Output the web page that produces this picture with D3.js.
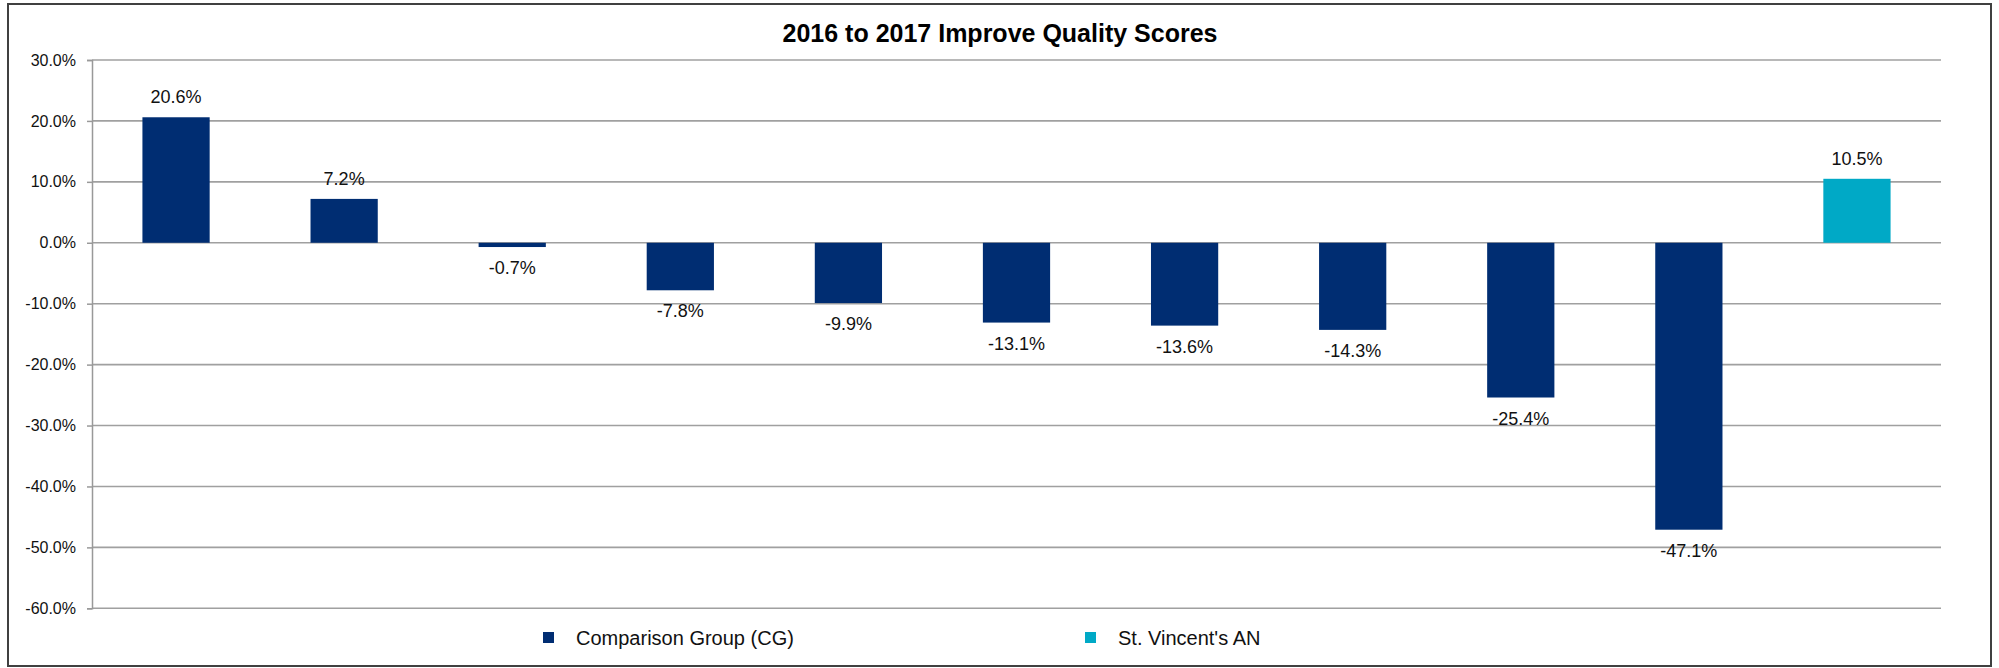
<!DOCTYPE html>
<html lang="en">
<head>
  <meta charset="UTF-8">
  <style>
    html, body { margin: 0; padding: 0; background: #fff; }
    svg { display: block; font-family: "Liberation Sans", Arial, sans-serif; }
  </style>
  <script src="https://d3js.org/d3.v7.min.js"></script>
</head>
<body>
  <svg id="chart" width="1999" height="668"></svg>

  <script>
    // chart data
    const categories = ["CG 1", "CG 2", "CG 3", "CG 4", "CG 5", "CG 6", "CG 7", "CG 8", "CG 9", "CG 10", "St. Vincent's AN"];
    const values = [20.6, 7.2, -0.7, -7.8, -9.9, -13.1, -13.6, -14.3, -25.4, -47.1, 10.5];
    const groups = ["CG", "CG", "CG", "CG", "CG", "CG", "CG", "CG", "CG", "CG", "SV"];
    const yTicks = [30, 20, 10, 0, -10, -20, -30, -40, -50, -60];
    const legendNames = ["Comparison Group (CG)", "St. Vincent's AN"];

    const colors = { CG: "#002D72", SV: "#00A9C6" };

    const svg = d3.select("#chart");

    // outer frame
    svg.append("rect")
      .attr("x", 8).attr("y", 4)
      .attr("width", 1983).attr("height", 662)
      .attr("fill", "#fff")
      .attr("stroke", "#404040")
      .attr("stroke-width", 2);

    const x = d3.scaleBand()
      .domain(categories)
      .range([92, 1941])
      .paddingInner(0.6)
      .paddingOuter(0.3);

    const y = d3.scaleLinear().domain([-60, 30]).range([608.3, 60]);

    // gridlines
    svg.append("g")
      .selectAll("line")
      .data(yTicks)
      .enter().append("line")
      .attr("x1", 92).attr("x2", 1941)
      .attr("y1", d => y(d)).attr("y2", d => y(d))
      .attr("stroke", "#a0a0a0")
      .attr("stroke-width", 1.6);

    // y axis
    const yAxis = d3.axisLeft(y)
      .tickValues(yTicks)
      .tickSize(5)
      .tickPadding(11)
      .tickFormat(d => d.toFixed(1) + "%");

    const gy = svg.append("g")
      .attr("transform", "translate(92,0)")
      .call(yAxis);
    gy.select(".domain").attr("stroke", "#999").attr("stroke-width", 1.5);
    gy.selectAll(".tick line").attr("stroke", "#999").attr("stroke-width", 1.5);
    gy.selectAll(".tick text")
      .attr("font-size", 16)
      .attr("font-family", "Liberation Sans, Arial, sans-serif")
      .attr("fill", "#111");

    // bars
    svg.append("g")
      .selectAll("rect")
      .data(values)
      .enter().append("rect")
      .attr("x", (d, i) => x(categories[i]))
      .attr("width", x.bandwidth())
      .attr("y", d => y(Math.max(0, d)))
      .attr("height", d => Math.abs(y(d) - y(0)))
      .attr("fill", (d, i) => colors[groups[i]]);

    // value labels
    svg.append("g")
      .selectAll("text")
      .data(values)
      .enter().append("text")
      .attr("x", (d, i) => x(categories[i]) + x.bandwidth() / 2)
      .attr("y", d => d >= 0 ? y(d) - 20 : y(d) + 21)
      .attr("text-anchor", "middle")
      .attr("dominant-baseline", "central")
      .attr("font-size", 18)
      .attr("fill", "#111")
      .text(d => d.toFixed(1) + "%");

    // title
    svg.append("text")
      .attr("x", 1000)
      .attr("y", 42)
      .attr("text-anchor", "middle")
      .attr("font-size", 25)
      .attr("font-weight", "bold")
      .attr("fill", "#000")
      .text("2016 to 2017 Improve Quality Scores");

    // legend
    const legendX = [543, 1085];
    const legend = svg.append("g");
    legendNames.forEach((name, i) => {
      legend.append("rect")
        .attr("x", legendX[i]).attr("y", 632)
        .attr("width", 11).attr("height", 11)
        .attr("fill", i === 0 ? colors.CG : colors.SV);
      legend.append("text")
        .attr("x", legendX[i] + 33)
        .attr("y", 638)
        .attr("dominant-baseline", "central")
        .attr("font-size", 20)
        .attr("fill", "#111")
        .text(name);
    });
  </script>
</body>
</html>
